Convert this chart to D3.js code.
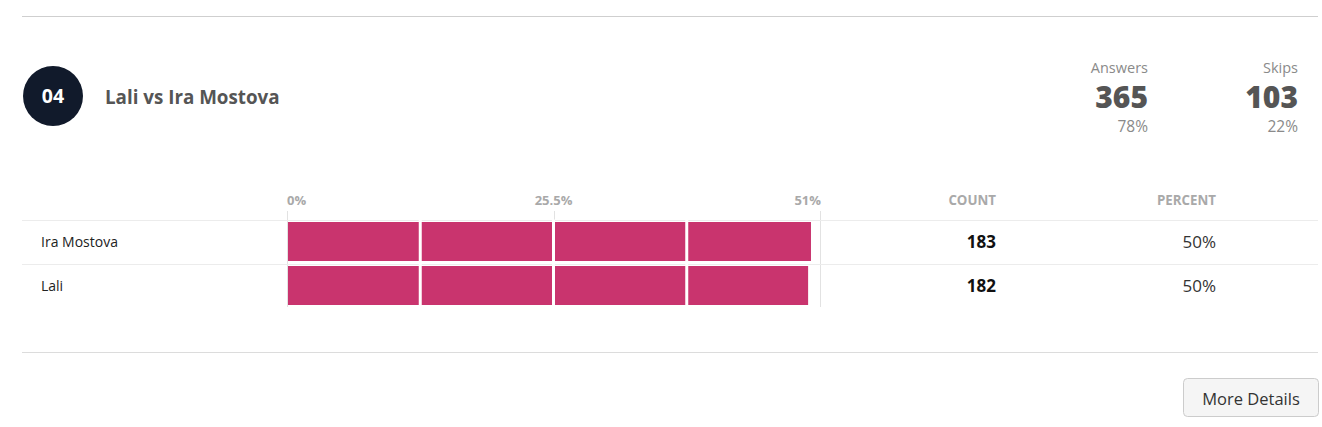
<!DOCTYPE html>
<html><head><meta charset="utf-8">
<script src="https://cdn.jsdelivr.net/npm/d3@7"></script>
<style>
html,body{margin:0;padding:0;background:#fff;}
svg{display:block;font-family:"Open Sans","Noto Sans",sans-serif;}
</style></head>
<body><svg id="c" width="1322" height="427"></svg>
<script>
const questionNumber = "04";
const questionTitle = "Lali vs Ira Mostova";
const summaryLabels = ["Answers", "Skips"];
const summaryCounts = [365, 103];
const summaryPercents = ["78%", "22%"];
const categories = ["Ira Mostova", "Lali"];
const counts = [183, 182];
const percentLabels = ["50%", "50%"];
const tickValues = [0, 25.5, 51];
const tickLabels = ["0%", "25.5%", "51%"];
const gridValues = [12.75, 25.5, 38.25];
const axisMax = 51;
const total = d3.sum(counts);

const svg = d3.select("#c");
const left = 22, right = 1318;

// top rule
svg.append("line").attr("x1", left).attr("x2", right).attr("y1", 16.5).attr("y2", 16.5)
  .attr("stroke", "#cfcfcf").attr("stroke-width", 1);

// header badge
svg.append("circle").attr("cx", 53).attr("cy", 96).attr("r", 30).attr("fill", "#111a2b");
svg.append("text").attr("x", 53).attr("y", 103).attr("text-anchor", "middle")
  .attr("fill", "#fff").attr("font-weight", 700).attr("font-size", 19.5).text(questionNumber);
svg.append("text").attr("x", 105).attr("y", 104).attr("fill", "#555")
  .attr("font-weight", 700).attr("font-size", 18.8).text(questionTitle);

// summary
const sumX = [1148, 1298];
summaryLabels.forEach((l, i) => {
  const g = svg.append("g");
  g.append("text").attr("x", sumX[i]).attr("y", 73).attr("text-anchor", "end")
    .attr("fill", "#8a8a8a").attr("font-size", 14.5).text(l);
  g.append("text").attr("x", sumX[i]).attr("y", 108).attr("text-anchor", "end")
    .attr("fill", "#555").attr("font-weight", 800).attr("font-size", 30).text(summaryCounts[i]);
  g.append("text").attr("x", sumX[i]).attr("y", 132).attr("text-anchor", "end")
    .attr("fill", "#8a8a8a").attr("font-size", 15.5).text(summaryPercents[i]);
});

// chart
const x = d3.scaleLinear().domain([0, axisMax]).range([287, 820]);
const y = d3.scaleBand().domain(categories).range([219.5, 307.5]).paddingInner(0).paddingOuter(0);

// header row
svg.selectAll(".tick-label").data(tickValues).join("text")
  .attr("x", (d, i) => i === tickValues.length - 1 ? x(d) + 1 : x(d))
  .attr("y", 205).attr("font-size", 13).attr("font-weight", 700).attr("fill", "#a9a9a9")
  .attr("text-anchor", (d, i) => i === 0 ? "start" : (i === tickValues.length - 1 ? "end" : "middle"))
  .text((d, i) => tickLabels[i]);
svg.append("text").attr("x", 996).attr("y", 205).attr("text-anchor", "end")
  .attr("font-size", 13.3).attr("font-weight", 700).attr("fill", "#a9a9a9").text("COUNT");
svg.append("text").attr("x", 1216).attr("y", 205).attr("text-anchor", "end")
  .attr("font-size", 13.3).attr("font-weight", 700).attr("fill", "#a9a9a9").text("PERCENT");

// tick marks
svg.selectAll(".tick-mark").data(tickValues).join("line")
  .attr("x1", d => Math.round(x(d)) + 0.5).attr("x2", d => Math.round(x(d)) + 0.5)
  .attr("y1", 211).attr("y2", (d, i) => (i === 1) ? 220 : 307)
  .attr("stroke", "#e2e2e2");

// row separators
svg.selectAll(".row-line").data(categories).join("line")
  .attr("x1", left).attr("x2", right)
  .attr("y1", d => Math.round(y(d)) + 0.5).attr("y2", d => Math.round(y(d)) + 0.5)
  .attr("stroke", "#ececec");

// bars
svg.selectAll(".bar").data(categories).join("rect")
  .attr("x", x(0) + 1)
  .attr("y", d => y(d) + 2.5)
  .attr("width", (d, i) => x(counts[i] / total * 100) - x(0) - 1)
  .attr("height", y.bandwidth() - 5)
  .attr("fill", "#c9346e");

// white grid lines over bars
svg.selectAll(".grid").data(gridValues).join("line")
  .attr("x1", d => x(d)).attr("x2", d => x(d))
  .attr("y1", y.range()[0]).attr("y2", y.range()[1])
  .attr("stroke", "#fff").attr("stroke-width", 3);

// row labels
svg.selectAll(".cat").data(categories).join("text")
  .attr("x", 41).attr("y", d => y(d) + y.bandwidth() / 2 + 5)
  .attr("font-size", 14).attr("fill", "#222").text(d => d);
svg.selectAll(".cnt").data(categories).join("text")
  .attr("x", 996).attr("y", d => y(d) + y.bandwidth() / 2 + 6)
  .attr("text-anchor", "end").attr("font-size", 17).attr("font-weight", 700).attr("fill", "#111")
  .text((d, i) => counts[i]);
svg.selectAll(".pct").data(categories).join("text")
  .attr("x", 1216).attr("y", d => y(d) + y.bandwidth() / 2 + 6)
  .attr("text-anchor", "end").attr("font-size", 17).attr("fill", "#333")
  .text((d, i) => percentLabels[i]);

// bottom rule
svg.append("line").attr("x1", left).attr("x2", right).attr("y1", 352.5).attr("y2", 352.5)
  .attr("stroke", "#dcdcdc");

// button
svg.append("rect").attr("x", 1183.5).attr("y", 378.5).attr("width", 135).attr("height", 38)
  .attr("rx", 4).attr("fill", "#f5f5f5").attr("stroke", "#cccccc");
svg.append("text").attr("x", 1251).attr("y", 405).attr("text-anchor", "middle")
  .attr("font-size", 16.5).attr("fill", "#333").text("More Details");
</script></body></html>
